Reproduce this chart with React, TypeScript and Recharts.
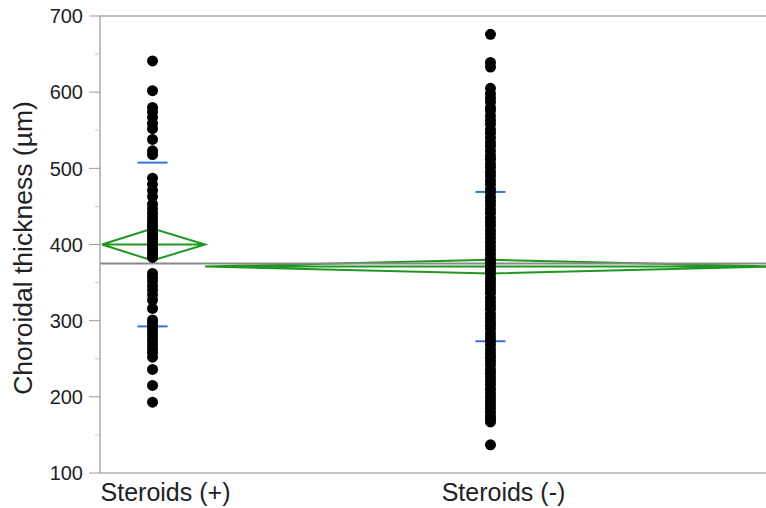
import React from 'react';
import { ComposedChart, Line, Scatter, XAxis, YAxis, ReferenceLine } from 'recharts';

const groups = ['Steroids (+)', 'Steroids (-)'];
const groupN = [53, 288];
const groupMeans = [400, 371];
const groupCIHalf = [21, 9];
const groupSD = [107.5, 98];
const groupSE = [13.5, 5.5];
const grandMean = 375;
const xVisibleMax = 336;

const steroidsPos = [
  641, 602, 580, 574, 567, 559, 552, 538, 523, 518,
  487, 479, 471, 463, 453, 447, 441, 436, 431, 427, 423, 419, 415, 411, 407, 403, 399, 395, 391, 387, 383,
  362, 357, 352, 346, 340, 334, 327, 316,
  301, 297, 292, 288, 283, 278, 273, 268, 263, 258, 252,
  236, 215, 193,
];

const steroidsNeg = [
  676, 639, 633, 605, 598, 592, 587, 580, 576, 569, 563, 558, 551, 546, 540, 534, 529, 523, 517, 512,
  506, 501, 495, 490, 484, 479, 473, 468, 462, 457, 452, 446, 441, 435, 430, 425, 419, 414, 409, 403,
  398, 393, 388, 382, 377, 372, 367, 362, 356, 351, 346, 341, 336, 330, 325, 320, 315, 309, 304, 299,
  294, 289, 283, 278, 273, 268, 262, 257, 252, 247, 242, 236, 231, 226, 221, 216, 210, 205, 200, 195,
  190, 185, 180, 175, 171, 167, 137,
];

const groupValues = [steroidsPos, steroidsNeg];
const yMajorTicks = [100, 200, 300, 400, 500, 600, 700];
const yMinorTicks = [150, 250, 350, 450, 550, 650];

const FONT = '"Liberation Sans", Arial, Helvetica, sans-serif';
const GREEN = '#1f981f';
const BLUE = '#3a73e0';

const groupStarts = groupN.map((_, i) => groupN.slice(0, i).reduce((a, b) => a + b, 0));
const groupEnds = groupN.map((n, i) => groupStarts[i] + n);
const groupCenters = groupN.map((n, i) => groupStarts[i] + n / 2);

const pointSets = groupValues.map((vals, i) => vals.map((v) => ({ x: groupCenters[i], y: v })));

const diamonds = groups.map((_, i) => {
  const s = groupStarts[i] + (i === 0 ? 1 : 0), e = groupEnds[i], c = groupCenters[i], m = groupMeans[i], h = groupCIHalf[i];
  return [
    { x: s, y: m },
    { x: c, y: m + h },
    { x: e, y: m },
    { x: c, y: m - h },
    { x: s, y: m },
    { x: e, y: m },
  ];
});

const sdHalf = 7.6;
const seHalf = 2.8;
const sdSegments: { x: number; y: number }[][] = [];
const seSegments: { x: number; y: number }[][] = [];
groups.forEach((_, i) => {
  const c = groupCenters[i];
  [groupMeans[i] + groupSD[i], groupMeans[i] - groupSD[i]].forEach((y) =>
    sdSegments.push([{ x: c - sdHalf, y }, { x: c + sdHalf, y }])
  );
  [groupMeans[i] + groupSE[i], groupMeans[i], groupMeans[i] - groupSE[i]].forEach((y) =>
    seSegments.push([{ x: c - seHalf, y }, { x: c + seHalf, y }])
  );
});

const allYTicks = [...yMajorTicks, ...yMinorTicks].sort((a, b) => a - b);

const YTick = (props: any) => {
  const { x, y, payload } = props;
  const major = yMajorTicks.includes(payload.value);
  return (
    <g>
      <line x1={x - (major ? 11 : 5)} x2={x} y1={y} y2={y} stroke={major ? '#9a9a9a' : '#c8c8c8'} strokeWidth={1} />
      {major && (
        <text x={x - 17} y={y} dy="0.36em" textAnchor="end" fontSize={20} fontFamily={FONT} fill="#222">
          {payload.value}
        </text>
      )}
    </g>
  );
};

const XTick = (props: any) => {
  const { x, y, payload } = props;
  const idx = groupCenters.indexOf(payload.value);
  return (
    <text x={x + 13} y={y + 28} textAnchor="middle" fontSize={25} fontFamily={FONT} fill="#222">
      {groups[idx]}
    </text>
  );
};

const YLabel = () => (
  <text
    x={32}
    y={248}
    transform="rotate(-90, 32, 248)"
    textAnchor="middle"
    fontSize={26.5}
    fontFamily={FONT}
    fill="#222"
  >
    Choroidal thickness (µm)
  </text>
);

const Dot = (props: any) => <circle cx={props.cx} cy={props.cy} r={5.5} fill="#000" />;

export default function App() {
  return (
    <div style={{ position: 'absolute', left: 0, top: 0, width: 766, height: 508, background: '#fff', overflow: 'hidden' }}>
      <ComposedChart width={766} height={508} margin={{ top: 16, right: 0, bottom: 0, left: 0 }}>
        <XAxis
          type="number"
          dataKey="x"
          domain={[0, xVisibleMax]}
          allowDataOverflow
          ticks={groupCenters}
          tick={<XTick />}
          tickLine={false}
          tickSize={0}
          tickMargin={0}
          height={35}
          axisLine={{ stroke: '#b0b0b0', strokeWidth: 1.5 }}
        />
        <YAxis
          type="number"
          dataKey="y"
          domain={[100, 700]}
          allowDataOverflow
          ticks={allYTicks}
          interval={0}
          tick={<YTick />}
          tickLine={false}
          tickSize={0}
          tickMargin={0}
          width={100}
          axisLine={{ stroke: '#a8a8a8', strokeWidth: 1.5 }}
          label={<YLabel />}
        />
        <ReferenceLine y={700} stroke="#a8a8a8" strokeWidth={1.5} />
        {diamonds.map((d, i) => (
          <Line
            key={'dia' + i}
            data={d}
            dataKey="y"
            type="linear"
            stroke={GREEN}
            strokeWidth={2}
            dot={false}
            activeDot={false}
            isAnimationActive={false}
          />
        ))}
        <ReferenceLine y={grandMean} stroke="#8a8a8a" strokeWidth={2} />
        {sdSegments.map((d, i) => (
          <Line
            key={'sd' + i}
            data={d}
            dataKey="y"
            type="linear"
            stroke={BLUE}
            strokeWidth={2}
            dot={false}
            activeDot={false}
            isAnimationActive={false}
          />
        ))}
        {pointSets.map((d, i) => (
          <Scatter key={'pts' + i} data={d} dataKey="y" shape={<Dot />} isAnimationActive={false} />
        ))}
        {seSegments.map((d, i) => (
          <Line
            key={'se' + i}
            data={d}
            dataKey="y"
            type="linear"
            stroke={BLUE}
            strokeWidth={2}
            dot={false}
            activeDot={false}
            isAnimationActive={false}
          />
        ))}
      </ComposedChart>
    </div>
  );
}
